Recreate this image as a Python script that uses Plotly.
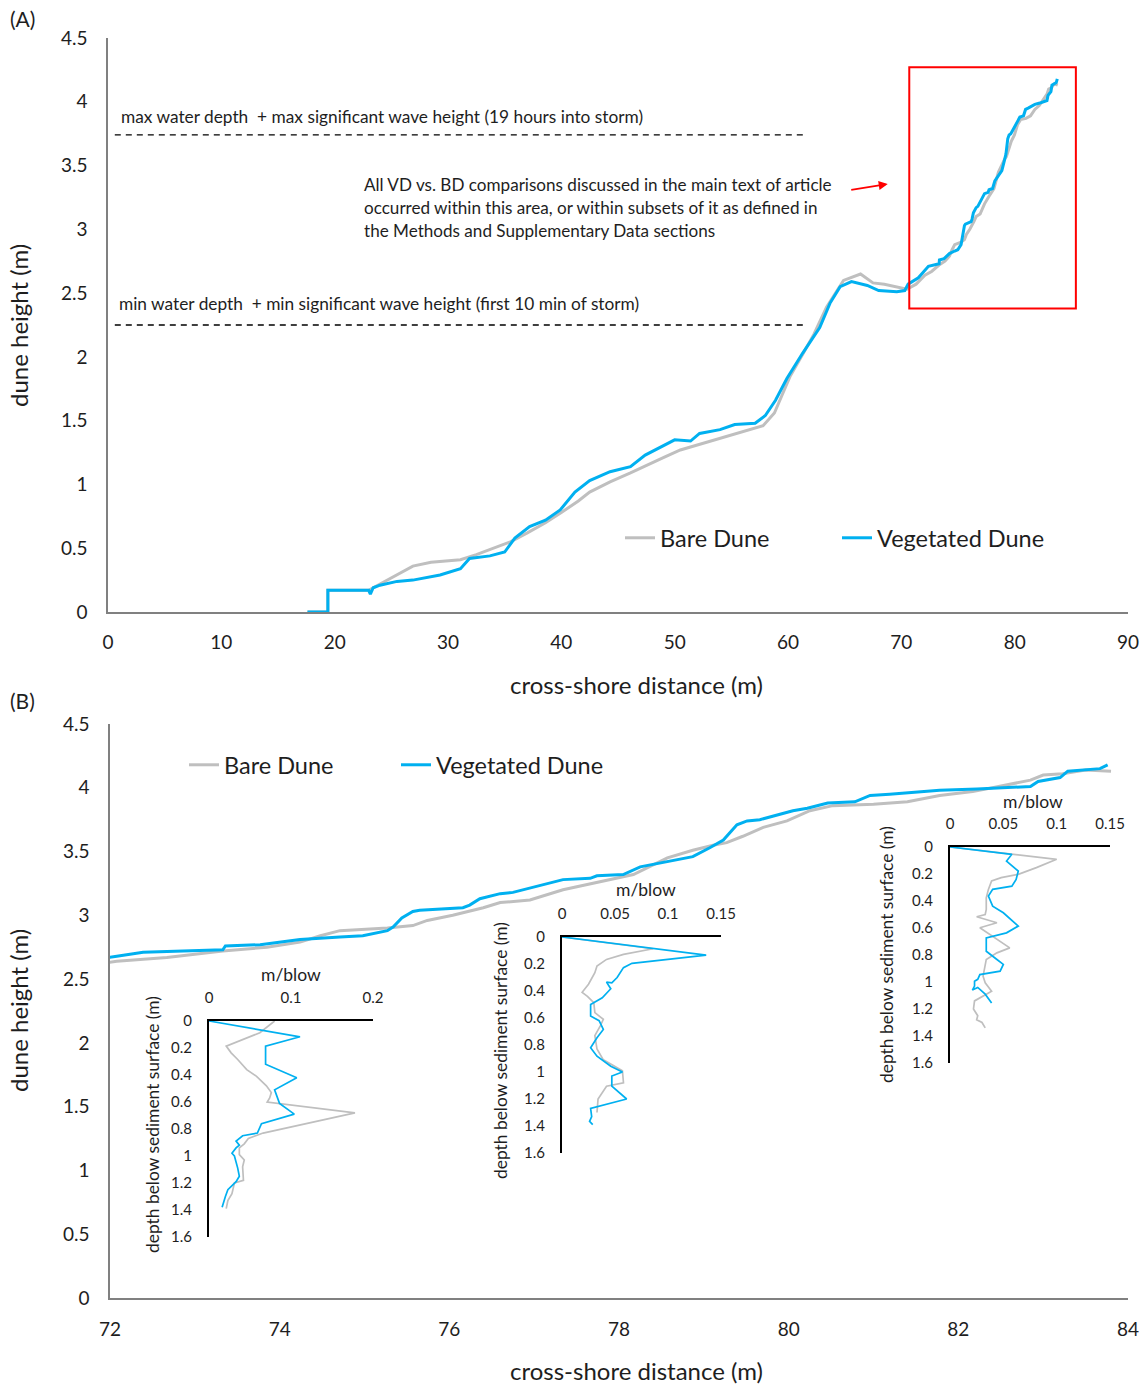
import plotly.graph_objects as go

W, H = 1148, 1387
def X(px): return px / W
def Y(py): return 1 - py / H

# ---------------- data ----------------
# Vegetated dune profile (cross-shore distance m, dune height m)
veg_x = [17.6, 19.4, 19.4, 23.0, 23.15, 23.4, 24.0, 25.5, 26.9, 28.0, 29.3, 31.1, 31.9, 33.7, 35.0,
         35.9, 37.2, 38.6, 39.9, 41.2, 42.5, 44.3, 46.1, 47.4, 49.1, 50.0, 51.4, 52.2, 54.0, 55.3,
         57.1, 58.0, 58.9, 59.9, 61.3, 62.8, 63.7, 64.6, 65.6, 67.0, 68.0, 69.6, 70.3, 70.6, 71.5,
         72.08, 72.39, 73.33, 73.36, 73.77, 74.24, 74.71, 74.98, 75.27, 75.34, 75.44, 75.57, 75.65,
         76.16, 76.24, 76.36, 76.60, 76.75, 77.34, 77.66, 77.74, 78.05, 78.25, 78.57, 78.87, 79.07,
         79.23, 79.39, 79.51, 79.66, 79.90, 80.05, 80.22, 80.46, 80.78, 80.96, 81.19, 81.78, 82.22,
         82.85, 82.94, 83.20, 83.29, 83.67, 83.76]
veg_y = [0.0, 0.0, 0.17, 0.17, 0.14, 0.19, 0.21, 0.24, 0.25, 0.27, 0.29, 0.34, 0.42, 0.44, 0.47,
         0.58, 0.67, 0.72, 0.80, 0.94, 1.03, 1.10, 1.14, 1.23, 1.31, 1.35, 1.34, 1.40, 1.43, 1.47,
         1.48, 1.54, 1.66, 1.83, 2.03, 2.23, 2.42, 2.55, 2.59, 2.56, 2.52, 2.51, 2.52, 2.57, 2.62,
         2.68, 2.71, 2.73, 2.76, 2.77, 2.81, 2.83, 2.84, 2.88, 2.91, 2.98, 3.03, 3.04,
         3.06, 3.08, 3.13, 3.17, 3.18, 3.28, 3.29, 3.31, 3.32, 3.38, 3.42, 3.46, 3.53,
         3.59, 3.71, 3.74, 3.75, 3.79, 3.82, 3.84, 3.88, 3.89, 3.94, 3.95, 3.98, 3.99,
         4.01, 4.05, 4.08, 4.13, 4.15, 4.18]

# Bare dune profile
bare_x = [17.6, 19.4, 19.4, 23.0, 23.4, 24.0, 25.5, 26.9, 28.5, 29.8, 31.1, 32.5, 34.0, 35.5, 37.0,
          38.6, 40.0, 41.5, 42.5, 44.3, 46.1, 47.5, 49.0, 50.5, 52.0, 53.5, 55.0, 56.5, 57.8, 58.8,
          60.2, 61.3, 62.3, 63.4, 64.9, 66.4, 67.5, 68.5, 69.5, 70.5, 71.3,
          72.08, 72.67, 73.33, 73.85, 74.24, 74.48, 74.71, 75.27, 75.57, 75.74, 76.04, 76.40, 76.60,
          76.95, 77.34, 77.74, 78.17, 78.57, 78.87, 79.11, 79.27, 79.46, 79.70, 79.98, 80.25, 80.52,
          81.00, 81.40, 81.78, 82.17, 82.57, 82.85, 83.00, 83.23, 83.50, 83.80]
bare_y = [0.0, 0.0, 0.17, 0.17, 0.19, 0.22, 0.29, 0.36, 0.39, 0.40, 0.41, 0.45, 0.50, 0.55, 0.62,
          0.70, 0.78, 0.87, 0.94, 1.02, 1.09, 1.15, 1.21, 1.27, 1.31, 1.35, 1.39, 1.43, 1.46, 1.56,
          1.85, 2.02, 2.18, 2.39, 2.60, 2.65, 2.58, 2.57, 2.55, 2.53, 2.57,
          2.64, 2.67, 2.72, 2.75, 2.79, 2.84, 2.88, 2.90, 2.92, 2.96, 3.00, 3.06, 3.10,
          3.12, 3.20, 3.26, 3.32, 3.45, 3.51, 3.55, 3.57, 3.62, 3.69, 3.74, 3.82, 3.86,
          3.87, 3.89, 3.94, 3.97, 4.02, 4.06, 4.10, 4.11, 4.14, 4.13]

# Reference water levels (m)
max_level = 3.74
min_level = 2.25

# Penetrometer insets: resistance (m/blow) vs depth below sediment surface (m)
p1_veg_v = [0.0, 0.111, 0.069, 0.069, 0.107, 0.080, 0.086, 0.104, 0.064, 0.059, 0.041, 0.033, 0.037,
            0.033, 0.028, 0.031, 0.035, 0.037, 0.033, 0.023, 0.020, 0.018, 0.016]
p1_veg_d = [0.0, 0.117, 0.186, 0.32, 0.42, 0.51, 0.61, 0.69, 0.76, 0.83, 0.85, 0.89, 0.92,
            0.94, 0.98, 1.0, 1.09, 1.15, 1.19, 1.25, 1.30, 1.35, 1.38]
p1_bare_v = [0.080, 0.062, 0.021, 0.027, 0.035, 0.046, 0.058, 0.070, 0.076, 0.074, 0.071, 0.178,
             0.066, 0.048, 0.043, 0.037, 0.037, 0.043, 0.041, 0.042, 0.031, 0.028, 0.023, 0.021]
p1_bare_d = [0.0, 0.087, 0.186, 0.236, 0.285, 0.36, 0.41, 0.48, 0.53, 0.57, 0.60, 0.68,
             0.83, 0.87, 0.91, 0.94, 0.99, 1.03, 1.08, 1.18, 1.20, 1.28, 1.33, 1.39]

p2_veg_v = [0.0, 0.136, 0.066, 0.058, 0.052, 0.047, 0.042, 0.046, 0.038, 0.031, 0.027, 0.027, 0.035,
            0.039, 0.033, 0.027, 0.033, 0.046, 0.057, 0.047, 0.047, 0.061, 0.027, 0.028, 0.026, 0.029]
p2_veg_d = [0.0, 0.134, 0.195, 0.227, 0.30, 0.34, 0.334, 0.383, 0.45, 0.48, 0.50, 0.586, 0.62,
            0.685, 0.747, 0.82, 0.883, 0.957, 1.0, 1.03, 1.105, 1.20, 1.27, 1.33, 1.365, 1.39]
p2_bare_v = [0.0, 0.086, 0.058, 0.042, 0.033, 0.031, 0.025, 0.019, 0.024, 0.030, 0.031, 0.039, 0.036,
             0.031, 0.033, 0.039, 0.057, 0.058, 0.042, 0.034, 0.033]
p2_bare_d = [0.0, 0.087, 0.129, 0.166, 0.215, 0.265, 0.35, 0.41, 0.44, 0.487, 0.56, 0.61, 0.66,
             0.73, 0.83, 0.91, 0.99, 1.08, 1.105, 1.20, 1.30]

p3_veg_v = [0.0, 0.058, 0.053, 0.059, 0.064, 0.062, 0.058, 0.040, 0.036, 0.040, 0.050, 0.064, 0.053,
            0.034, 0.034, 0.044, 0.050, 0.047, 0.028, 0.026, 0.023, 0.023, 0.021, 0.026, 0.033, 0.039]
p3_veg_d = [0.0, 0.054, 0.104, 0.141, 0.178, 0.24, 0.29, 0.314, 0.364, 0.438, 0.487, 0.586, 0.636,
            0.673, 0.772, 0.833, 0.87, 0.92, 0.945, 0.98, 0.994, 1.03, 1.06, 1.04, 1.09, 1.155]
p3_bare_v = [0.0, 0.100, 0.081, 0.064, 0.048, 0.039, 0.036, 0.034, 0.034, 0.033, 0.025, 0.044, 0.028,
             0.040, 0.050, 0.056, 0.044, 0.034, 0.031, 0.033, 0.039, 0.031, 0.023, 0.022, 0.026,
             0.025, 0.030, 0.033]
p3_bare_d = [0.0, 0.091, 0.153, 0.203, 0.227, 0.252, 0.314, 0.376, 0.462, 0.50, 0.517, 0.561, 0.598,
             0.66, 0.71, 0.747, 0.784, 0.833, 0.957, 1.006, 1.068, 1.105, 1.14, 1.20, 1.25,
             1.28, 1.30, 1.34]

# ---------------- styling ----------------
BLUE = "#00B0F0"
GRAY = "#BFBFBF"
FONT = "Lato"
TXT = "#1e1e1e"
AX = "#808080"

fig = go.Figure()

# Panel A
fig.add_trace(go.Scatter(x=bare_x, y=bare_y, mode="lines", name="Bare Dune",
                         line=dict(color=GRAY, width=3), xaxis="x", yaxis="y", legend="legend"))
fig.add_trace(go.Scatter(x=veg_x, y=veg_y, mode="lines", name="Vegetated Dune",
                         line=dict(color=BLUE, width=3), xaxis="x", yaxis="y", legend="legend"))
# Panel B
fig.add_trace(go.Scatter(x=bare_x, y=bare_y, mode="lines", name="Bare Dune",
                         line=dict(color=GRAY, width=3), xaxis="x2", yaxis="y2", legend="legend2"))
fig.add_trace(go.Scatter(x=veg_x, y=veg_y, mode="lines", name="Vegetated Dune",
                         line=dict(color=BLUE, width=3), xaxis="x2", yaxis="y2", legend="legend2"))

insets = [
    (p1_bare_v, p1_bare_d, p1_veg_v, p1_veg_d, "x3", "y3"),
    (p2_bare_v, p2_bare_d, p2_veg_v, p2_veg_d, "x4", "y4"),
    (p3_bare_v, p3_bare_d, p3_veg_v, p3_veg_d, "x5", "y5"),
]
for bv, bd, vv, vd, xa, ya in insets:
    fig.add_trace(go.Scatter(x=bv, y=bd, mode="lines", line=dict(color=GRAY, width=1.7),
                             xaxis=xa, yaxis=ya, showlegend=False))
    fig.add_trace(go.Scatter(x=vv, y=vd, mode="lines", line=dict(color=BLUE, width=1.7),
                             xaxis=xa, yaxis=ya, showlegend=False))

tickfont = dict(family=FONT, size=19, color=TXT)
insfont = dict(family=FONT, size=15, color=TXT)

def main_x(domain, rng, dtick, anchor, standoff):
    return dict(domain=domain, range=rng, dtick=dtick, tick0=rng[0], showgrid=False, zeroline=False,
                showline=True, linecolor=AX, linewidth=1.5, ticks="", tickfont=tickfont,
                ticklabelstandoff=standoff, anchor=anchor, automargin=False, fixedrange=True)

def main_y(domain, anchor):
    return dict(domain=domain, range=[0, 4.5], dtick=0.5, showgrid=False, zeroline=False,
                showline=True, linecolor=AX, linewidth=1.5, ticks="", tickfont=tickfont,
                ticklabelstandoff=15, anchor=anchor, automargin=False, fixedrange=True)

def ins_x(domain, rng, dtick, anchor):
    return dict(domain=domain, range=rng, dtick=dtick, tick0=0, side="top", showgrid=False,
                zeroline=False, showline=True, linecolor="#000000", linewidth=2, ticks="",
                tickfont=insfont, ticklabelstandoff=10, anchor=anchor, automargin=False,
                fixedrange=True)

def ins_y(domain, anchor):
    return dict(domain=domain, range=[1.6, 0], dtick=0.2, tick0=0, showgrid=False, zeroline=False,
                showline=True, linecolor="#000000", linewidth=2, ticks="", tickfont=insfont,
                ticklabelstandoff=12, anchor=anchor, automargin=False, fixedrange=True)

fig.update_layout(
    width=W, height=H, margin=dict(l=0, r=0, t=0, b=0),
    paper_bgcolor="white", plot_bgcolor="rgba(0,0,0,0)",
    font=dict(family=FONT, color=TXT),
    xaxis=main_x([X(108), X(1128)], [0, 90], 10, "y", 12),
    yaxis=main_y([Y(612), Y(38)], "x"),
    xaxis2=main_x([X(110), X(1128)], [72, 84], 2, "y2", 13),
    yaxis2=main_y([Y(1298), Y(724)], "x2"),
    xaxis3=ins_x([X(209), X(373)], [0, 0.2], 0.1, "y3"),
    yaxis3=ins_y([Y(1237), Y(1021)], "x3"),
    xaxis4=ins_x([X(562), X(721)], [0, 0.15], 0.05, "y4"),
    yaxis4=ins_y([Y(1153), Y(937)], "x4"),
    xaxis5=ins_x([X(950), X(1110)], [0, 0.15], 0.05, "y5"),
    yaxis5=ins_y([Y(1063), Y(847)], "x5"),
    legend=dict(orientation="h", x=X(620), y=Y(538), xanchor="left", yanchor="middle",
                font=dict(family=FONT, size=23.5, color=TXT), bgcolor="rgba(0,0,0,0)",
                entrywidth=172, itemwidth=30, tracegroupgap=0),
    legend2=dict(orientation="h", x=X(184), y=Y(765), xanchor="left", yanchor="middle",
                 font=dict(family=FONT, size=23.5, color=TXT), bgcolor="rgba(0,0,0,0)",
                 entrywidth=167, itemwidth=30, tracegroupgap=0),
)

# dashed water-level lines
for lvl in (max_level, min_level):
    fig.add_shape(type="line", xref="x", yref="y", x0=0.6, x1=61.4, y0=lvl, y1=lvl,
                  line=dict(color="#000000", width=1.3, dash="6px,5px"))

# red highlight box
fig.add_shape(type="rect", xref="x", yref="y", x0=70.7, x1=85.4, y0=2.38, y1=4.27,
              line=dict(color="#FF0000", width=2))

ann = []
def txt(text, px, py, size, xanchor="left", angle=0, yanchor="middle"):
    ann.append(dict(text=text, x=X(px), y=Y(py), xref="paper", yref="paper", showarrow=False,
                    xanchor=xanchor, yanchor=yanchor, textangle=angle,
                    font=dict(family=FONT, size=size, color=TXT)))

txt("(A)", 8, 18, 21)
txt("(B)", 8, 700, 21)
txt("max water depth  + max significant wave height (19 hours into storm)", 119, 116, 17.3)
txt("min water depth  + min significant wave height (first 10 min of storm)", 117, 303, 17.3)
txt("All VD vs. BD comparisons discussed in the main text of article", 362, 184, 17.1)
txt("occurred within this area, or within subsets of it as defined in", 362, 207, 17.1)
txt("the Methods and Supplementary Data sections", 362, 230, 17.1)

# axis titles
txt("dune height (m)", 18, 326, 24, xanchor="center", angle=-90)
txt("cross-shore distance (m)", 636, 685, 24, xanchor="center")
txt("dune height (m)", 18, 1011, 24, xanchor="center", angle=-90)
txt("cross-shore distance (m)", 636, 1370, 24, xanchor="center")

# inset titles
txt("m/blow", 291, 974, 17.5, xanchor="center")
txt("m/blow", 646, 889, 17.5, xanchor="center")
txt("m/blow", 1033, 801, 17.5, xanchor="center")
txt("depth below sediment surface (m)", 152, 1125, 17.4, xanchor="center", angle=-90)
txt("depth below sediment surface (m)", 500, 1050, 17.4, xanchor="center", angle=-90)
txt("depth below sediment surface (m)", 886, 955, 17.4, xanchor="center", angle=-90)

# red arrow pointing to the box
ann.append(dict(x=68.8, y=3.355, xref="x", yref="y", ax=-38, ay=6, axref="pixel", ayref="pixel",
                showarrow=True, arrowhead=2, arrowsize=1, arrowwidth=1.8, arrowcolor="#FF0000",
                text=""))

fig.update_layout(annotations=ann)

fig.write_html("out.html")
